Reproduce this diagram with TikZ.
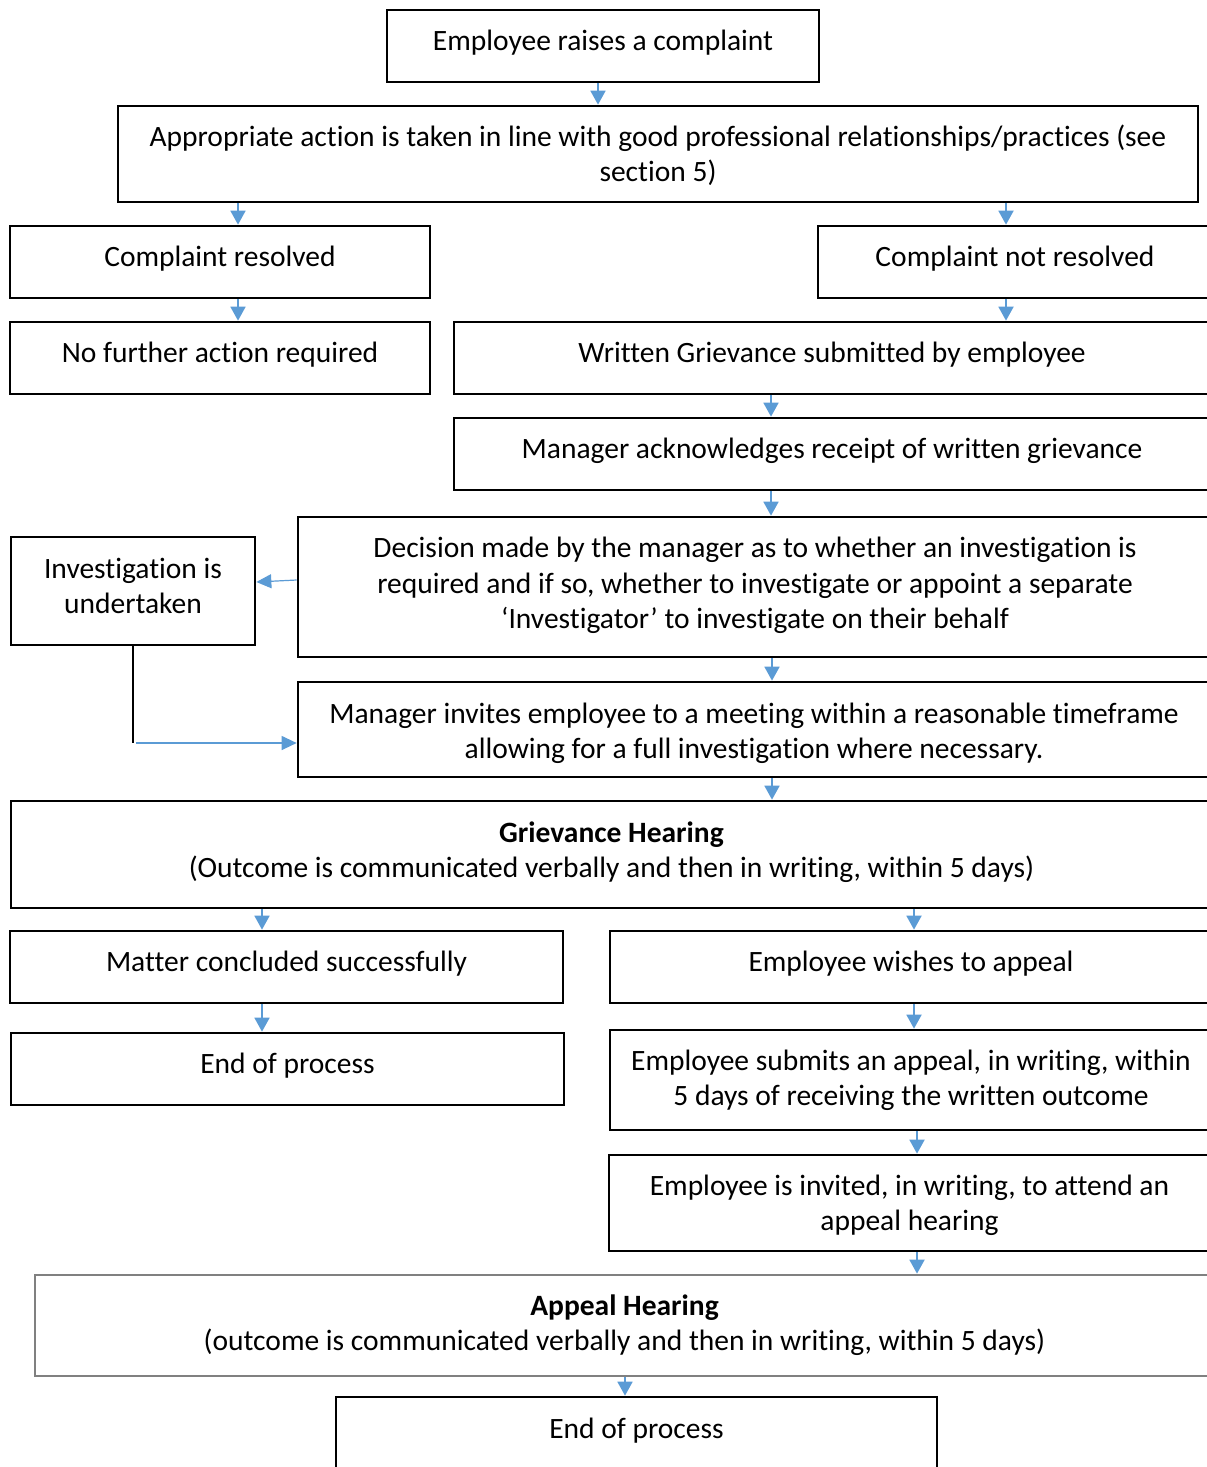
\documentclass[tikz,border=0pt]{standalone}
\usepackage{fontspec}
\setmainfont{Carlito}[Ligatures=NoCommon]
\usetikzlibrary{arrows.meta}
\definecolor{arrowblue}{RGB}{91,155,213}
\definecolor{boxgray}{RGB}{128,128,128}
\newcommand\boxlines[1]{\begin{tabular}{@{}c@{}}#1\end{tabular}}
\tikzset{
  box/.style={draw=black, line width=2.7pt, rectangle, inner sep=0pt,
    font=\fontsize{29.5}{35.7}\selectfont},
  tp/.style 2 args={text height=#1pt, text depth=#2pt},
  arr/.style={draw=arrowblue, line width=1.8pt, -{Triangle[width=15pt,length=14pt]}, arrowblue},
  arrthin/.style={draw=arrowblue, line width=1.2pt, -{Triangle[width=14pt,length=15pt]}, arrowblue},
}
\begin{document}
\begin{tikzpicture}[x=1pt, y=-1pt]
\useasboundingbox (0,0) rectangle (1207,1467);
\clip (0,0) rectangle (1207,1467);
\fill[white] (0,0) rectangle (1207,1467);

\node[box, tp={33.2}{26.8}, minimum width=432pt, minimum height=72pt] (b1) at (603,46) {\boxlines{Employee raises a complaint}};
\node[box, tp={39.2}{20.8}, minimum width=1080pt, minimum height=96pt] (b2) at (658,154) {\boxlines{Appropriate action is taken in line with good professional relationships/practices (see\\section 5)}};
\node[box, tp={33.2}{26.8}, minimum width=420pt, minimum height=72pt] (b3) at (220,262) {\boxlines{Complaint resolved}};
\node[box, tp={33.2}{26.8}, minimum width=394pt, minimum height=72pt] (b4) at (1015,262) {\boxlines{Complaint not resolved}};
\node[box, tp={33.2}{26.8}, minimum width=420pt, minimum height=72pt] (b5) at (220,358) {\boxlines{No further action required}};
\node[box, tp={33.2}{26.8}, minimum width=756pt, minimum height=72pt] (b6) at (832,358) {\boxlines{Written Grievance submitted by employee}};
\node[box, tp={33.2}{26.8}, minimum width=756pt, minimum height=72pt] (b7) at (832,454) {\boxlines{Manager acknowledges receipt of written grievance}};
\node[box, tp={34.2}{25.8}, minimum width=244pt, minimum height=108pt] (b8) at (133,591) {\boxlines{Investigation is\\undertaken}};
\node[box, tp={35.2}{24.8}, minimum width=914pt, minimum height=140pt] (b9) at (755,587) {\boxlines{Decision made by the manager as to whether an investigation is\\required and if so, whether to investigate or appoint a separate\\‘Investigator’ to investigate on their behalf}};
\node[box, tp={40.7}{19.3}, minimum width=912pt, minimum height=95pt] (b10) at (754,729.5) {\boxlines{Manager invites employee to a meeting within a reasonable timeframe\\allowing for a full investigation where necessary.}};
\node[box, tp={34.7}{25.3}, minimum width=1201pt, minimum height=107pt] (b11) at (611.5,854.5) {\boxlines{\textbf{Grievance Hearing}\\(Outcome is communicated verbally and then in writing, within 5 days)}};
\node[box, tp={33.2}{26.8}, minimum width=553pt, minimum height=72pt] (b12) at (286.5,967) {\boxlines{Matter concluded successfully}};
\node[box, tp={33.2}{26.8}, minimum width=602pt, minimum height=72pt] (b13) at (911,967) {\boxlines{Employee wishes to appeal}};
\node[box, tp={33.2}{26.8}, minimum width=553pt, minimum height=72pt] (b14) at (287.5,1069) {\boxlines{End of process}};
\node[box, tp={37.2}{22.8}, minimum width=602pt, minimum height=100pt] (b15) at (911,1080) {\boxlines{Employee submits an appeal, in writing, within\\5 days of receiving the written outcome}};
\node[box, tp={39.2}{20.8}, minimum width=601pt, minimum height=96pt] (b16) at (909.5,1203) {\boxlines{Employee is invited, in writing, to attend an\\appeal hearing}};
\node[box, tp={36.7}{23.3}, draw=boxgray, minimum width=1179pt, minimum height=101pt] (b17) at (624.5,1325.5) {\boxlines{\textbf{Appeal Hearing}\\(outcome is communicated verbally and then in writing, within 5 days)}};
\node[box, tp={34.2}{25.8}, minimum width=601pt, minimum height=72pt] (b18) at (636.5,1433) {\boxlines{End of process}};

\draw[arr] (b1.south -| 598,0) -- (b2.north -| 598,0);
\draw[arr] (b2.south -| 238,0) -- (b3.north -| 238,0);
\draw[arr] (b2.south -| 1006,0) -- (b4.north -| 1006,0);
\draw[arr] (b3.south -| 238,0) -- (b5.north -| 238,0);
\draw[arr] (b4.south -| 1006,0) -- (b6.north -| 1006,0);
\draw[arr] (b6.south -| 771,0) -- (b7.north -| 771,0);
\draw[arr] (b7.south -| 771,0) -- (b9.north -| 771,0);
\draw[arr] (b9.south -| 772,0) -- (b10.north -| 772,0);
\draw[arr] (b10.south -| 772,0) -- (b11.north -| 772,0);
\draw[arr] (b11.south -| 262,0) -- (b12.north -| 262,0);
\draw[arr] (b11.south -| 914,0) -- (b13.north -| 914,0);
\draw[arr] (b12.south -| 262,0) -- (b14.north -| 262,0);
\draw[arr] (b13.south -| 914,0) -- (b15.north -| 914,0);
\draw[arr] (b15.south -| 917,0) -- (b16.north -| 917,0);
\draw[arr] (b16.south -| 917,0) -- (b17.north -| 917,0);
\draw[arr] (b17.south -| 625,0) -- (b18.north -| 625,0);

\draw[arrthin] (b9.west |- 0,580) -- (b8.east |- 0,582);
\coordinate (bend) at (133,743);
\draw[black, line width=1.4pt] (b8.south) -- (bend);
\draw[arrthin] ([xshift=3pt]bend) -- (b10.west |- bend);
\end{tikzpicture}
\end{document}
